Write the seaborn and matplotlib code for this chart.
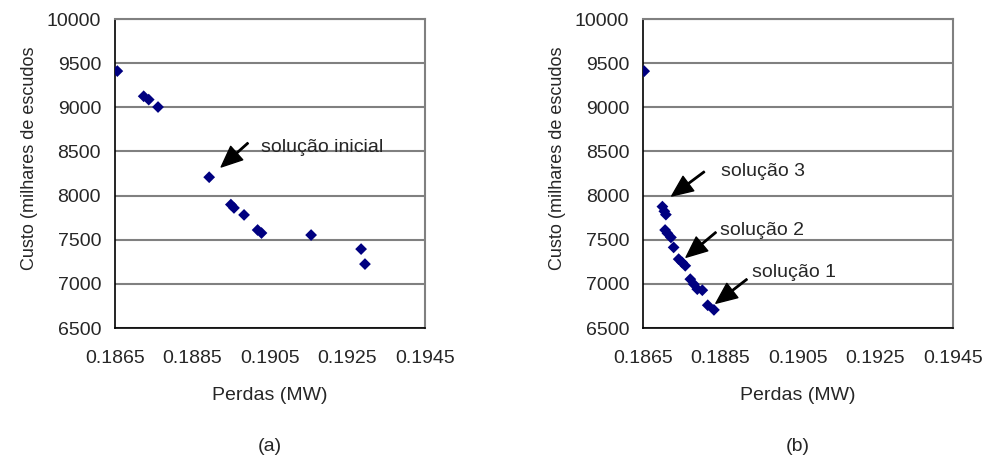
import numpy as np
import pandas as pd
import matplotlib
matplotlib.use("Agg")
import matplotlib.pyplot as plt
import seaborn as sns

# (a) Perdas (MW) x Custo
perdas_a = [0.18656, 0.18724, 0.18737, 0.18761, 0.18893, 0.18949, 0.18957,
            0.18983, 0.19018, 0.19028, 0.19156, 0.19285, 0.19295]
custo_a = [9410, 9125, 9087, 9003, 8208, 7898, 7860,
           7781, 7610, 7576, 7553, 7394, 7224]

# (b)
perdas_b = [0.18653, 0.18700, 0.18705, 0.18709, 0.18707, 0.18713, 0.18722,
            0.18729, 0.18742, 0.18751, 0.18759, 0.18772, 0.18781, 0.18790,
            0.18803, 0.18817, 0.18833]
custo_b = [9409, 7875, 7822, 7784, 7610, 7572, 7526,
           7413, 7280, 7242, 7205, 7053, 6996, 6940,
           6928, 6758, 6705]

xticks = [0.1865, 0.1885, 0.1905, 0.1925, 0.1945]
yticks = [6500, 7000, 7500, 8000, 8500, 9000, 9500, 10000]

# anotacoes: (texto, ponta da seta, cauda da seta, posicao do texto)
notas_a = [("solução inicial", (0.18924, 8324), (0.18993, 8595), (0.19027, 8550))]
notas_b = [("solução 3", (0.18724, 7995), (0.18808, 8270), (0.18851, 8270)),
           ("solução 2", (0.18761, 7301), (0.18838, 7584), (0.18849, 7610)),
           ("solução 1", (0.18838, 6780), (0.18918, 7052), (0.18932, 7126))]

sns.set_style("white")
plt.rcParams["font.family"] = ["Liberation Sans", "DejaVu Sans"]

fig = plt.figure(figsize=(9.94, 4.59), dpi=100)
ax1 = fig.add_axes([0.1157, 0.2854, 0.3119, 0.6732])
ax2 = fig.add_axes([0.6469, 0.2854, 0.3119, 0.6732])

paineis = [(ax1, perdas_a, custo_a, notas_a, "(a)"),
           (ax2, perdas_b, custo_b, notas_b, "(b)")]

for ax, xs, ys, notas, letra in paineis:
    df = pd.DataFrame({"perdas": xs, "custo": ys})
    ax.set_axisbelow(True)
    ax.yaxis.grid(True, color="#808080", linewidth=1.5)
    ax.xaxis.grid(False)
    sns.scatterplot(data=df, x="perdas", y="custo", ax=ax, marker="D",
                    color="#000080", edgecolor="none", s=36, zorder=3)
    ax.set_xlim(0.1865, 0.1945)
    ax.set_ylim(6500, 10000)
    ax.set_xticks(xticks)
    ax.set_xticklabels([f"{t:.4f}" for t in xticks])
    ax.set_yticks(yticks)
    ax.tick_params(axis="both", direction="out", length=5, width=1,
                   color="black", labelsize=14, pad=5)
    ax.tick_params(axis="x", pad=11)
    for lado in ["left", "bottom"]:
        ax.spines[lado].set_color("black")
        ax.spines[lado].set_linewidth(1.2)
    for lado in ["right", "top"]:
        ax.spines[lado].set_color("#808080")
        ax.spines[lado].set_linewidth(1.5)
    ax.set_xlabel("Perdas (MW)", fontsize=14)
    ax.set_ylabel("Custo (milhares de escudos", fontsize=13)
    ax.xaxis.set_label_coords(0.5, -0.19)
    ax.yaxis.set_label_coords(-0.248, 0.55)
    for texto, ponta, cauda, pos in notas:
        ax.annotate("", xy=ponta, xytext=cauda,
                    arrowprops=dict(facecolor="black", edgecolor="black",
                                    width=1, headwidth=13, headlength=15,
                                    shrink=0))
        ax.text(pos[0], pos[1], texto, fontsize=14, va="center", ha="left")
    ax.text(0.5, -0.385, letra, transform=ax.transAxes, fontsize=14,
            ha="center", va="center")

fig.savefig("out.png", dpi=100)
